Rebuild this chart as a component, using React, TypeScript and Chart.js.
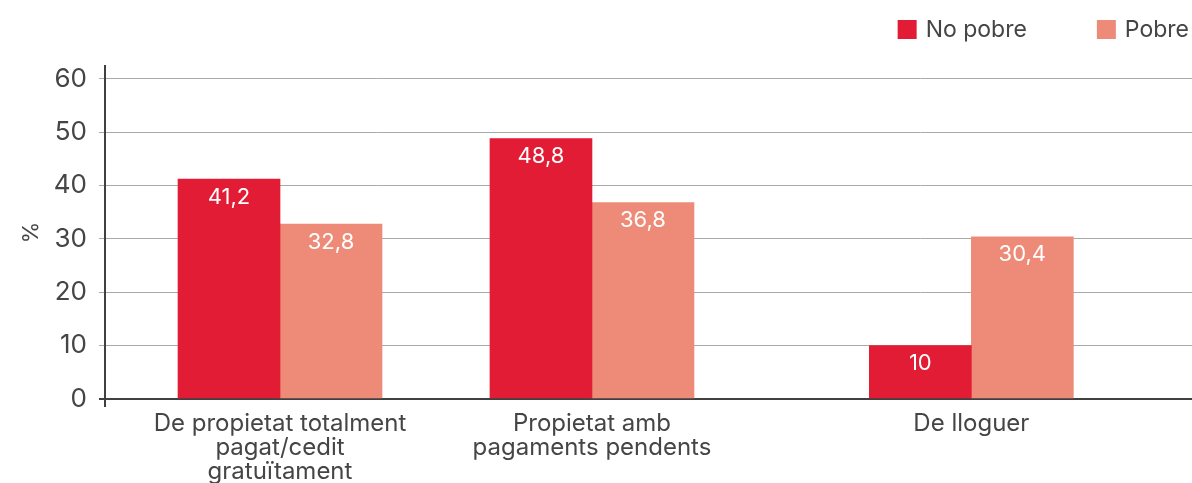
import { useEffect, useRef } from 'react';
import { Chart, registerables } from 'chart.js';

Chart.register(...registerables);

// ---- data ----
const categoryLabels: string[][] = [
  ['De propietat totalment', 'pagat/cedit', 'gratuïtament'],
  ['Propietat amb', 'pagaments pendents'],
  ['De lloguer'],
];
// positions of each category group on the (linear) x axis
const groupPositions = [1.61, 4.48, 7.97];
const seriesNames = ['No pobre', 'Pobre'];
const noPobreValues = [41.2, 48.8, 10];
const pobreValues = [32.8, 36.8, 30.4];
const yTickValues = [0, 10, 20, 30, 40, 50, 60];

const RED = '#e21c34';
const SALMON = '#ee8b78';
const TEXT = '#454545';
const GRID = '#a9a9a9';
const AXIS = '#404040';
const FAMILY = 'Inter, "Noto Sans", sans-serif';

const fmt = (v: number) => String(v).replace('.', ',');

const legendPlugin = {
  id: 'customLegend',
  afterDraw(chart: any) {
    const ctx = chart.ctx;
    ctx.save();
    ctx.font = `23px ${FAMILY}`;
    ctx.textBaseline = 'middle';
    ctx.textAlign = 'left';
    const y = 30;
    let x = chart.width - 3;
    const ds = chart.data.datasets;
    for (let i = ds.length - 1; i >= 0; i--) {
      const label = ds[i].label as string;
      const w = ctx.measureText(label).width;
      const textX = x - w;
      const boxX = textX - 9 - 19;
      ctx.fillStyle = ds[i].backgroundColor;
      ctx.fillRect(boxX, y - 10, 19, 19);
      ctx.fillStyle = TEXT;
      ctx.fillText(label, textX, y);
      x = boxX - 70;
    }
    ctx.restore();
  },
};

const valueLabelPlugin = {
  id: 'valueLabels',
  afterDatasetsDraw(chart: any) {
    const ctx = chart.ctx;
    ctx.save();
    ctx.font = `22px ${FAMILY}`;
    ctx.fillStyle = '#ffffff';
    ctx.textAlign = 'center';
    ctx.textBaseline = 'middle';
    chart.data.datasets.forEach((ds: any, di: number) => {
      const meta = chart.getDatasetMeta(di);
      meta.data.forEach((el: any, i: number) => {
        const v = ds.data[i].y;
        ctx.fillText(fmt(v), el.x, el.y + 18);
      });
    });
    ctx.restore();
  },
};

const axisExtPlugin = {
  id: 'axisExt',
  afterDraw(chart: any) {
    const ctx = chart.ctx;
    const a = chart.chartArea;
    ctx.save();
    ctx.strokeStyle = AXIS;
    ctx.lineWidth = 2;
    ctx.beginPath();
    ctx.moveTo(a.left, a.bottom);
    ctx.lineTo(a.left, a.bottom + 8);
    ctx.stroke();
    ctx.restore();
  },
};

export default function App() {
  const ref = useRef<HTMLCanvasElement>(null);
  useEffect(() => {
    if (!ref.current) return;
    const chart = new Chart(ref.current, {
      type: 'bar',
      data: {
        datasets: [
          {
            label: seriesNames[0],
            data: noPobreValues.map((v, i) => ({ x: groupPositions[i], y: v })),
            backgroundColor: RED,
            barThickness: 102,
          },
          {
            label: seriesNames[1],
            data: pobreValues.map((v, i) => ({ x: groupPositions[i], y: v })),
            backgroundColor: SALMON,
            barThickness: 102,
          },
        ],
      } as any,
      options: {
        responsive: false,
        animation: false,
        layout: { padding: { top: 66, right: 0, left: 0, bottom: 0 } },
        plugins: {
          legend: { display: false },
          tooltip: { enabled: false },
        },
        scales: {
          x: {
            type: 'linear',
            offset: false,
            min: 0,
            max: 10,
            grid: { display: false, drawTicks: false },
            border: { display: true, color: AXIS, width: 2 },
            afterBuildTicks: (scale: any) => {
              scale.ticks = groupPositions.map((v) => ({ value: v }));
            },
            afterFit: (scale: any) => {
              scale.height = 84;
            },
            ticks: {
              autoSkip: false,
              maxRotation: 0,
              padding: 13,
              color: TEXT,
              font: { family: FAMILY, size: 24, lineHeight: '24px' },
              callback: (_v: any, i: number) => categoryLabels[i],
            },
          },
          y: {
            min: 0,
            max: 62.4,
            afterBuildTicks: (scale: any) => {
              scale.ticks = yTickValues.map((v) => ({ value: v }));
            },
            afterFit: (scale: any) => {
              scale.width = 105;
            },
            grid: {
              color: (c: any) => (c.tick && c.tick.value === 0 ? AXIS : GRID),
              lineWidth: (c: any) => (c.tick && c.tick.value === 0 ? 2 : 1),
              tickLength: 6,
              drawTicks: true,
            },
            border: { display: true, color: AXIS, width: 2 },
            ticks: {
              padding: 12,
              color: TEXT,
              font: { family: FAMILY, size: 26 },
              includeBounds: false,
            },
            title: {
              display: true,
              text: '%',
              color: TEXT,
              font: { family: FAMILY, size: 22 },
              padding: { top: 18, bottom: 0 },
            },
          },
        },
      } as any,
      plugins: [legendPlugin, valueLabelPlugin, axisExtPlugin],
    });
    return () => chart.destroy();
  }, []);
  return (
    <div style={{ position: 'absolute', left: 0, top: 0, width: 1192, height: 483, background: '#fff' }}>
      <canvas ref={ref} width={1192} height={483} />
    </div>
  );
}
